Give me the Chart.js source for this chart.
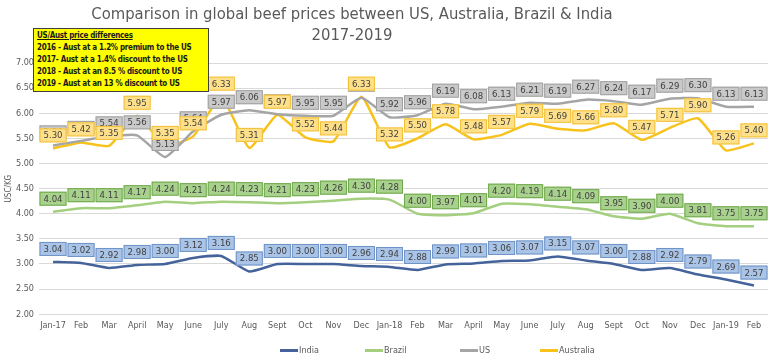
<!DOCTYPE html>
<html lang="en">
<head>
<meta charset="UTF-8" />
<title>Global beef prices 2017-2019</title>
<script src="https://cdn.jsdelivr.net/npm/chart.js"></script>
<style>
  html, body {
    margin: 0;
    padding: 0;
    background: #fff;
  }

  .wrap {
    position: relative;
    width: 768px;
    height: 359px;
    overflow: hidden;
    font-family: "Liberation Sans Narrow", "DejaVu Sans Condensed", sans-serif;
  }

  .wrap canvas {
    position: absolute;
    left: 0;
    top: 0;
  }

  .title {
    position: absolute;
    left: 0;
    top: 3px;
    width: 704px;
    text-align: center;
    color: #595959;
    font-size: 16.5px;
    line-height: 21px;
  }

  .note {
    position: absolute;
    left: 33px;
    top: 28px;
    width: 168px;
    height: 60px;
    padding: 1px 3px;
    background: #ffff00;
    border: 1px solid #404040;
    font-weight: bold;
    font-size: 8px;
    letter-spacing: -0.3px;
    line-height: 12px;
    color: #1a1a1a;
    white-space: nowrap;
  }

  .note u {
    display: block;
  }

  .legend {
    position: absolute;
    top: 344px;
    left: 0;
    font-size: 9px;
    color: #595959;
  }

  .legend span {
    position: absolute;
    white-space: nowrap;
    line-height: 12px;
  }

  .legend i {
    display: inline-block;
    width: 18px;
    height: 2.5px;
    vertical-align: middle;
    margin-right: 1px;
  }
</style>
</head>
<body>
<div class="wrap">
  <canvas id="beefChart" width="768" height="359"></canvas>
  <div class="title">Comparison in global beef prices between US, Australia, Brazil &amp; India<br>2017-2019</div>
  <div class="note">
    <u>US/Aust price differences</u>
    2016 - Aust at a 1.2% premium to the US<br>
    2017- Aust at a 1.4% discount  to the US<br>
    2018 - Aust at an 8.5 % discount  to US<br>
    2019 - Aust at an 13 % discount to US
  </div>
  <div class="legend" id="legend"></div>
</div>

<script>
  // months Jan-17 .. Feb-19
  const months = ['Jan-17', 'Feb', 'Mar', 'April', 'May', 'June', 'July', 'Aug', 'Sept', 'Oct', 'Nov', 'Dec',
    'Jan-18', 'Feb', 'Mar', 'April', 'May', 'June', 'July', 'Aug', 'Sept', 'Oct', 'Nov', 'Dec', 'Jan-19', 'Feb'];

  const india = [3.04, 3.02, 2.92, 2.98, 3.00, 3.12, 3.16, 2.85, 3.00, 3.00, 3.00, 2.96, 2.94,
    2.88, 2.99, 3.01, 3.06, 3.07, 3.15, 3.07, 3.00, 2.88, 2.92, 2.79, 2.69, 2.57];
  const brazil = [4.04, 4.11, 4.11, 4.17, 4.24, 4.21, 4.24, 4.23, 4.21, 4.23, 4.26, 4.30, 4.28,
    4.00, 3.97, 4.01, 4.20, 4.19, 4.14, 4.09, 3.95, 3.90, 4.00, 3.81, 3.75, 3.75];
  const us = [5.36, 5.45, 5.54, 5.56, 5.13, 5.64, 5.97, 6.06, 5.98, 5.95, 5.95, 6.31, 5.92,
    5.96, 6.19, 6.08, 6.13, 6.21, 6.19, 6.27, 6.24, 6.17, 6.29, 6.30, 6.13, 6.13];
  const australia = [5.30, 5.42, 5.35, 5.95, 5.35, 5.54, 6.33, 5.31, 5.97, 5.52, 5.44, 6.33, 5.32,
    5.50, 5.78, 5.48, 5.57, 5.79, 5.69, 5.66, 5.80, 5.47, 5.71, 5.90, 5.26, 5.40];

  const fontFam = '"Liberation Sans Narrow", "DejaVu Sans Condensed", sans-serif';

  // boxed value labels above each point, like the Excel data callouts
  const boxLabels = {
    id: 'boxLabels',
    afterDatasetsDraw(chart) {
      const ctx = chart.ctx;
      ctx.save();
      ctx.font = '9.5px ' + fontFam;
      ctx.textAlign = 'center';
      ctx.textBaseline = 'middle';
      chart.data.datasets.forEach((ds, i) => {
        const meta = chart.getDatasetMeta(i);
        meta.data.forEach((pt, j) => {
          const txt = ds.data[j].toFixed(2);
          const w = ctx.measureText(txt).width + 8;
          const h = 14;
          const cx = pt.x;
          const cy = pt.y - 13;
          ctx.fillStyle = ds.boxFill;
          ctx.fillRect(cx - w / 2, cy - h / 2, w, h);
          ctx.strokeStyle = ds.boxLine;
          ctx.lineWidth = 1;
          ctx.strokeRect(cx - w / 2 + 0.5, cy - h / 2 + 0.5, w - 1, h - 1);
          ctx.fillStyle = '#404040';
          ctx.fillText(txt, cx, cy + 0.5);
        });
      });
      ctx.restore();
    }
  };

  const makeSet = (label, data, color, boxFill, boxLine) => ({
    label,
    data,
    borderColor: color,
    backgroundColor: color,
    borderWidth: 2.5,
    pointRadius: 0,
    tension: 0.15,
    fill: false,
    boxFill,
    boxLine
  });

  const sets = [
    makeSet('India', india, '#44639b', '#a9c4e6', '#6f93c6'),
    makeSet('Brazil', brazil, '#a3cf7f', '#a9d18e', '#6fa84a'),
    makeSet('US', us, '#a5a5a5', '#c9c9c9', '#a0a0a0'),
    makeSet('Australia', australia, '#f7c21c', '#ffe08a', '#f2c037')
  ];

  // html legend, spaced like the original
  const legendX = [280, 365, 460, 540];
  const legend = document.getElementById('legend');
  sets.forEach((s, i) => {
    const item = document.createElement('span');
    item.style.left = legendX[i] + 'px';
    item.innerHTML = '<i style="background:' + s.borderColor + '"></i>' + s.label;
    legend.appendChild(item);
  });

  new Chart(document.getElementById('beefChart').getContext('2d'), {
    type: 'line',
    data: {
      labels: months,
      datasets: sets
    },
    options: {
      responsive: false,
      animation: false,
      layout: { padding: { top: 63, left: 4, right: 0, bottom: 22 } },
      plugins: {
        title: { display: false },
        tooltip: { enabled: false },
        legend: { display: false }
      },
      scales: {
        x: {
          offset: true,
          grid: { display: false, drawTicks: false },
          border: { display: false },
          ticks: {
            color: '#595959',
            font: { size: 9, family: fontFam },
            maxRotation: 0,
            autoSkip: false,
            padding: 6
          }
        },
        y: {
          min: 2,
          max: 7,
          afterFit(scale) { scale.width = 35; },
          grid: { color: '#d9d9d9', drawTicks: false },
          border: { display: false },
          ticks: {
            stepSize: 0.5,
            color: '#595959',
            font: { size: 9, family: fontFam },
            padding: 5,
            callback: v => v.toFixed(2)
          },
          title: {
            display: true,
            text: 'USC/KG',
            color: '#595959',
            font: { size: 8, family: fontFam },
            padding: 0
          }
        }
      }
    },
    plugins: [boxLabels]
  });
</script>
</body>
</html>
